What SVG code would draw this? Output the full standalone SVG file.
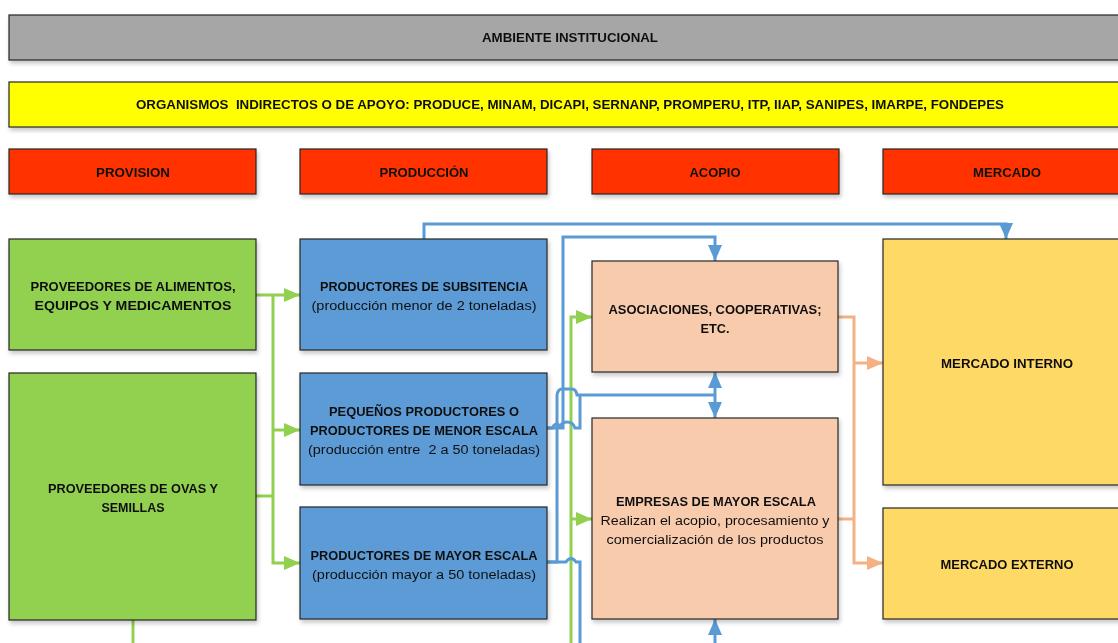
<svg xmlns="http://www.w3.org/2000/svg" width="1118" height="643" viewBox="0 0 1118 643">
<style>
.box{stroke:#262626;stroke-width:1.2}
.t{font-family:"Liberation Sans",Arial,sans-serif;font-size:12.5px;fill:#111;text-anchor:middle}
.b{font-weight:bold}
.g{fill:none;stroke:#92d050;stroke-width:3}
.bl{fill:none;stroke:#5b9bd5;stroke-width:3}
.o{fill:none;stroke:#f4b183;stroke-width:3}
</style>
<defs>
<filter id="sh" x="-5%" y="-5%" width="112%" height="120%">
<feDropShadow dx="1.5" dy="3" stdDeviation="2" flood-color="#000" flood-opacity="0.22"/>
</filter>
<marker id="ag" markerUnits="userSpaceOnUse" markerWidth="16" markerHeight="16" viewBox="0 0 16 16" refX="16" refY="8" orient="auto"><path d="M0,1 L16,8 L0,15 z" fill="#92d050"/></marker>
<marker id="ab" markerUnits="userSpaceOnUse" markerWidth="16" markerHeight="16" viewBox="0 0 16 16" refX="16" refY="8" orient="auto"><path d="M0,1 L16,8 L0,15 z" fill="#5b9bd5"/></marker>
<marker id="ao" markerUnits="userSpaceOnUse" markerWidth="16" markerHeight="16" viewBox="0 0 16 16" refX="16" refY="8" orient="auto"><path d="M0,1 L16,8 L0,15 z" fill="#f4b183"/></marker>
</defs>
<rect width="1118" height="643" fill="#fff"/>

<g id="ambiente" filter="url(#sh)">
<rect class="box" x="9" y="15" width="1125" height="45" fill="#a6a6a6"/>
<text class="t b" x="570" y="41.5" textLength="176" lengthAdjust="spacingAndGlyphs">AMBIENTE INSTITUCIONAL</text>
</g>
<g id="organismos" filter="url(#sh)">
<rect class="box" x="9" y="82" width="1125" height="45" fill="#ffff00"/>
<text class="t b" x="570" y="108.5" textLength="868" lengthAdjust="spacingAndGlyphs" xml:space="preserve">ORGANISMOS  INDIRECTOS O DE APOYO: PRODUCE, MINAM, DICAPI, SERNANP, PROMPERU, ITP, IIAP, SANIPES, IMARPE, FONDEPES</text>
</g>
<g id="provision" filter="url(#sh)">
<rect class="box" x="9" y="149" width="247" height="45" fill="#ff3300"/>
<text class="t b" x="133" y="176.5" textLength="74" lengthAdjust="spacingAndGlyphs">PROVISION</text>
</g>
<g id="produccion" filter="url(#sh)">
<rect class="box" x="300" y="149" width="247" height="45" fill="#ff3300"/>
<text class="t b" x="424" y="176.5" textLength="89" lengthAdjust="spacingAndGlyphs">PRODUCCIÓN</text>
</g>
<g id="acopio" filter="url(#sh)">
<rect class="box" x="592" y="149" width="247" height="45" fill="#ff3300"/>
<text class="t b" x="715" y="176.5" textLength="51" lengthAdjust="spacingAndGlyphs">ACOPIO</text>
</g>
<g id="mercado" filter="url(#sh)">
<rect class="box" x="883" y="149" width="260" height="45" fill="#ff3300"/>
<text class="t b" x="1007" y="176.5" textLength="68" lengthAdjust="spacingAndGlyphs">MERCADO</text>
</g>

<g id="connectors">
<path class="g" d="M256,295 H300" marker-end="url(#ag)"/>
<path class="g" d="M273,295 V563 H300" marker-end="url(#ag)"/>
<path class="g" d="M273,430 H300" marker-end="url(#ag)"/>
<path class="g" d="M256,496 H273"/>
<path class="g" d="M133,620 V643"/>
<path class="g" d="M571,643 V317 H592" marker-end="url(#ag)"/>
<path class="g" d="M571,519 H592" marker-end="url(#ag)"/>
<path class="bl" d="M424,239 V224 H1006 V239" marker-end="url(#ab)"/>
<path class="bl" d="M547,428 H563 V237 H715 V261" marker-end="url(#ab)"/>
<path class="bl" d="M547,428 H552 Q556,421 560,426 Q563,422 567,422 Q573,422 575,428 H580 V395"/>
<path class="bl" d="M547,562 H557 V395 Q558,389 562,389 H572 Q576,389 577,395 H715"/>
<path class="bl" d="M715,395 V418" marker-end="url(#ab)"/>
<path class="bl" d="M715,395 V372" marker-end="url(#ab)"/>
<path class="bl" d="M547,562 H566 Q571,555 576,562 H580 V643"/>
<path class="bl" d="M715,643 V619" marker-end="url(#ab)"/>
<path class="o" d="M838,317 H854 V563 H883" marker-end="url(#ao)"/>
<path class="o" d="M854,363 H883" marker-end="url(#ao)"/>
<path class="o" d="M838,519 H854"/>
</g>

<g id="prov-alimentos" filter="url(#sh)">
<rect class="box" x="9" y="239" width="247" height="111" fill="#92d050"/>
<text class="t b" x="133" y="290.5" textLength="205" lengthAdjust="spacingAndGlyphs">PROVEEDORES DE ALIMENTOS,</text>
<text class="t b" x="133" y="309.5" textLength="197" lengthAdjust="spacingAndGlyphs">EQUIPOS Y MEDICAMENTOS</text>
</g>
<g id="prov-ovas" filter="url(#sh)">
<rect class="box" x="9" y="373" width="247" height="247" fill="#92d050"/>
<text class="t b" x="133" y="492.5" textLength="170" lengthAdjust="spacingAndGlyphs">PROVEEDORES DE OVAS Y</text>
<text class="t b" x="133" y="511.5" textLength="63" lengthAdjust="spacingAndGlyphs">SEMILLAS</text>
</g>
<g id="prod-subsistencia" filter="url(#sh)">
<rect class="box" x="300" y="239" width="247" height="111" fill="#5b9bd5"/>
<text class="t b" x="424" y="290.5" textLength="208" lengthAdjust="spacingAndGlyphs">PRODUCTORES DE SUBSITENCIA</text>
<text class="t" x="424" y="309.5" textLength="225" lengthAdjust="spacingAndGlyphs">(producción menor de 2 toneladas)</text>
</g>
<g id="prod-menor" filter="url(#sh)">
<rect class="box" x="300" y="373" width="247" height="112" fill="#5b9bd5"/>
<text class="t b" x="424" y="415.5" textLength="190" lengthAdjust="spacingAndGlyphs">PEQUEÑOS PRODUCTORES O</text>
<text class="t b" x="424" y="434.5" textLength="228" lengthAdjust="spacingAndGlyphs">PRODUCTORES DE MENOR ESCALA</text>
<text class="t" x="424" y="453.5" textLength="232" lengthAdjust="spacingAndGlyphs" xml:space="preserve">(producción entre  2 a 50 toneladas)</text>
</g>
<g id="prod-mayor" filter="url(#sh)">
<rect class="box" x="300" y="507" width="247" height="112" fill="#5b9bd5"/>
<text class="t b" x="424" y="559.5" textLength="227" lengthAdjust="spacingAndGlyphs">PRODUCTORES DE MAYOR ESCALA</text>
<text class="t" x="424" y="578.5" textLength="224" lengthAdjust="spacingAndGlyphs">(producción mayor a 50 toneladas)</text>
</g>
<g id="asociaciones" filter="url(#sh)">
<rect class="box" x="592" y="261" width="246" height="111" fill="#f8cbad"/>
<text class="t b" x="715" y="313.5" textLength="213" lengthAdjust="spacingAndGlyphs">ASOCIACIONES, COOPERATIVAS;</text>
<text class="t b" x="715" y="332.5" textLength="29" lengthAdjust="spacingAndGlyphs">ETC.</text>
</g>
<g id="empresas" filter="url(#sh)">
<rect class="box" x="592" y="418" width="246" height="201" fill="#f8cbad"/>
<text class="t b" x="716" y="505.5" textLength="200" lengthAdjust="spacingAndGlyphs">EMPRESAS DE MAYOR ESCALA</text>
<text class="t" x="715" y="524.5" textLength="229" lengthAdjust="spacingAndGlyphs">Realizan el acopio, procesamiento y</text>
<text class="t" x="715" y="543.5" textLength="217" lengthAdjust="spacingAndGlyphs">comercialización de los productos</text>
</g>
<g id="mercado-interno" filter="url(#sh)">
<rect class="box" x="883" y="239" width="260" height="246" fill="#ffd966"/>
<text class="t b" x="1007" y="367.5" textLength="132" lengthAdjust="spacingAndGlyphs">MERCADO INTERNO</text>
</g>
<g id="mercado-externo" filter="url(#sh)">
<rect class="box" x="883" y="508" width="260" height="111" fill="#ffd966"/>
<text class="t b" x="1007" y="568.5" textLength="133" lengthAdjust="spacingAndGlyphs">MERCADO EXTERNO</text>
</g>
</svg>
